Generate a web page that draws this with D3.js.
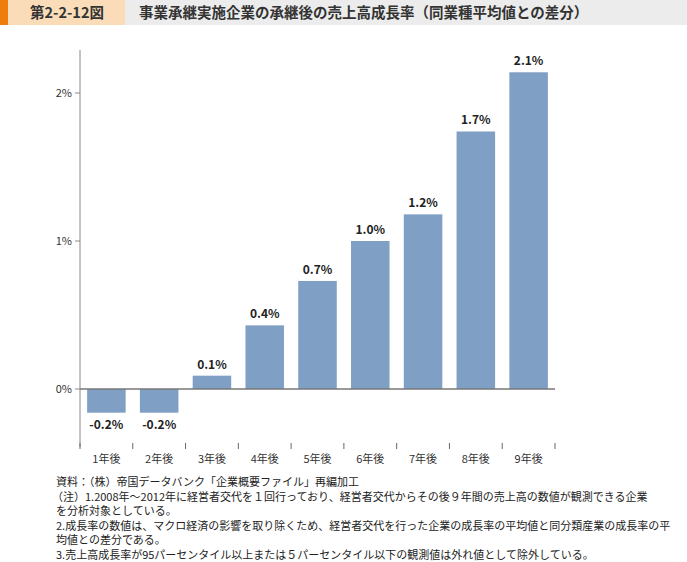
<!DOCTYPE html><html><head><meta charset="utf-8"><script src="https://cdn.jsdelivr.net/npm/d3@7"></script>
<style>body{margin:0;background:#fff}text{font-family:"Noto Sans CJK JP","Noto Sans",sans-serif}</style></head><body>
<svg width="687" height="562"></svg>
<script>
const categories=["1年後","2年後","3年後","4年後","5年後","6年後","7年後","8年後","9年後"];
const values=[-0.16,-0.16,0.09,0.43,0.73,1.0,1.18,1.74,2.14];
const labels=["-0.2%","-0.2%","0.1%","0.4%","0.7%","1.0%","1.2%","1.7%","2.1%"];
const yTicks=[0,1,2];
const title="事業承継実施企業の承継後の売上高成長率（同業種平均値との差分）";
const figNo="第2-2-12図";
const notes=["資料：（株）帝国データバンク「企業概要ファイル」再編加工",
"（注）1.2008年～2012年に経営者交代を１回行っており、経営者交代からその後９年間の売上高の数値が観測できる企業",
"を分析対象としている。",
"2.成長率の数値は、マクロ経済の影響を取り除くため、経営者交代を行った企業の成長率の平均値と同分類産業の成長率の平",
"均値との差分である。",
"3.売上高成長率が95パーセンタイル以上または５パーセンタイル以下の観測値は外れ値として除外している。"];
const svg=d3.select("svg");
svg.append("rect").attr("x",0).attr("y",0).attr("width",687).attr("height",25).attr("fill","#ececec");
svg.append("rect").attr("x",0).attr("y",0).attr("width",125).attr("height",25).attr("fill","#fbdcb8");
svg.append("rect").attr("x",0).attr("y",0).attr("width",8).attr("height",25).attr("fill","#ee7d0f");
svg.append("text").attr("x",30).attr("y",18).attr("font-size",14.5).attr("font-weight","bold").attr("fill","#333").text(figNo);
svg.append("text").attr("x",139).attr("y",18).attr("font-size",14.5).attr("font-weight","bold").attr("fill","#333").text(title);
const x=d3.scaleBand().domain(categories).range([80,555]).paddingInner(0.27).paddingOuter(0.135);
const y=d3.scaleLinear().domain([0,1]).range([389,241]);
const g=svg.append("g");
g.selectAll("rect.b").data(values).join("rect").attr("class","b")
 .attr("x",(d,i)=>x(categories[i])).attr("width",x.bandwidth())
 .attr("y",d=>Math.min(y(d),y(0))).attr("height",d=>Math.abs(y(d)-y(0))).attr("fill","#809fc4");
g.selectAll("text.l").data(values).join("text").attr("class","l")
 .attr("x",(d,i)=>x(categories[i])+x.bandwidth()/2).attr("y",d=>d<0?y(d)+16:y(d)-7)
 .attr("text-anchor","middle").attr("font-size",12).attr("font-weight","bold").attr("fill","#222").text((d,i)=>labels[i]);
g.append("line").attr("x1",80).attr("x2",80).attr("y1",50).attr("y2",447).attr("stroke","#888");
yTicks.forEach(t=>{g.append("line").attr("x1",75).attr("x2",80).attr("y1",y(t)).attr("y2",y(t)).attr("stroke","#888");
 g.append("text").attr("x",72).attr("y",y(t)+4).attr("text-anchor","end").attr("font-size",11).attr("fill","#333").text(t+"%");});
g.append("line").attr("x1",80).attr("x2",555).attr("y1",y(0)).attr("y2",y(0)).attr("stroke","#777").attr("stroke-width",1.5);
const edges=categories.map(c=>x(c)-x.step()*x.paddingInner()/2).concat([555]);
edges.forEach(e=>g.append("line").attr("x1",e).attr("x2",e).attr("y1",443).attr("y2",449).attr("stroke","#666"));
categories.forEach(c=>g.append("text").attr("x",x(c)+x.bandwidth()/2).attr("y",463).attr("text-anchor","middle").attr("font-size",11).attr("fill","#333").text(c));
notes.forEach((n,i)=>svg.append("text").attr("x",i==1?52:56).attr("y",486+i*14.6).attr("font-size",11).attr("fill","#222").text(n));
</script></body></html>
